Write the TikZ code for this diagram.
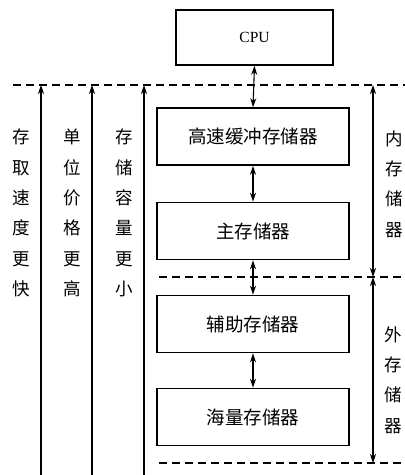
\documentclass[tikz,border=0pt]{standalone}
\usepackage{fontspec}
\setmainfont{Liberation Serif}
\newfontfamily\cjk{Noto Sans CJK SC}
\usetikzlibrary{arrows.meta}
\begin{document}
\begin{tikzpicture}[x=1pt,y=-1pt,
  membox/.style={draw,line width=1.6pt,minimum width=192pt,minimum height=57pt,inner sep=0pt,font=\cjk\fontsize{18.5}{18.5}\selectfont},
  coltext/.style={align=center,inner sep=0pt,font=\cjk\fontsize{17.5}{30.3}\selectfont},
  dashline/.style={line width=1.1pt,dash pattern=on 8pt off 5pt},
  arr/.style={line width=1.1pt,-{Stealth[length=9pt,width=6pt]}},
  darr/.style={line width=1.1pt,{Stealth[length=9pt,width=6pt]}-{Stealth[length=9pt,width=6pt]}}]
\useasboundingbox (0,0) rectangle (405,475);
\node[draw,line width=1.6pt,minimum width=157pt,minimum height=55pt,inner sep=0pt,font=\fontsize{15.5}{15.5}\selectfont] (cpu) at (254.5,37.5) {CPU};
\node[membox] (cache) at (253,136.5) {高速缓冲存储器};
\node[membox] (main) at (253,231) {主存储器};
\node[membox] (aux) at (253,324) {辅助存储器};
\node[membox] (mass) at (253,417) {海量存储器};
% dashed lines
\coordinate (d1l) at (13,85); \coordinate (d1r) at (405,85);
\coordinate (d2l) at (159,277); \coordinate (d2r) at (405,277);
\coordinate (d3l) at (159,463); \coordinate (d3r) at (405,463);
\draw[dashline] (d1l) -- (d1r);
\draw[dashline] (d2l) -- (d2r);
\draw[dashline] (d3l) -- (d3r);
% vertical arrows between boxes
\draw[darr] (cpu.south) -- (cache.north);
\draw[darr] (cache.south) -- (main.north);
\draw[darr] (main.south) -- (aux.north);
\draw[darr] (aux.south) -- (mass.north);
% left arrows
\coordinate (a1b) at (41,475); \coordinate (a1t) at (41,85);
\coordinate (a2b) at (92,475); \coordinate (a2t) at (92,85);
\coordinate (a3b) at (144,475); \coordinate (a3t) at (144,85);
\draw[arr] (a1b) -- (a1t);
\draw[arr] (a2b) -- (a2t);
\draw[arr] (a3b) -- (a3t);
% right arrows
\coordinate (r1) at (373,85); \coordinate (r2) at (373,277); \coordinate (r3) at (373,463);
\draw[darr] (r1) -- (r2);
\draw[darr] (r2) -- (r3);
% column texts
\node[coltext] (c1) at (21,213) {存\\取\\速\\度\\更\\快};
\node[coltext] (c2) at (72,213) {单\\位\\价\\格\\更\\高};
\node[coltext] (c3) at (124,213) {存\\储\\容\\量\\更\\小};
\node[coltext] (inner) at (394,184) {内\\存\\储\\器};
\node[coltext] (outer) at (393,380) {外\\存\\储\\器};
\end{tikzpicture}
\end{document}
